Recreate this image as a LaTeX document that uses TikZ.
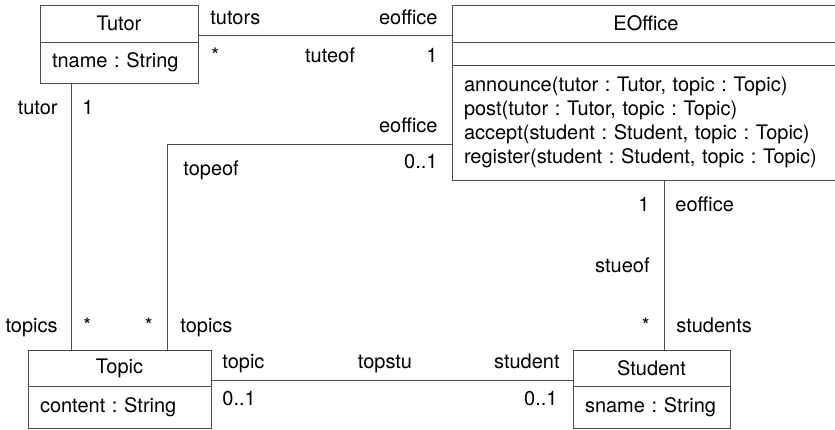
\documentclass[tikz,border=0pt]{standalone}
\usepackage{fontspec}
\setmainfont{TeX Gyre Heros}
\usetikzlibrary{positioning}
\frenchspacing

\tikzset{
  umlline/.style={draw=black!70, line width=0.5pt},
  classhead/.style={umlline, anchor=north west, inner sep=0pt, outer sep=0pt,
    minimum width=#1, minimum height=18.5pt},
  classbody/.style={umlline, align=left, inner xsep=6pt, inner ysep=0pt,
    outer sep=0pt, text width=#1},
  role/.style={inner sep=0pt}
}

\begin{document}
\begin{tikzpicture}[x=0.5pt, y=-0.5pt]
  \useasboundingbox (0,0) rectangle (835,429);
  % classes
  \node[classhead=79pt] (tutorhead) at (40,5) {Tutor};
  \node[classbody=67pt, minimum height=20.5pt, below=0pt of tutorhead] (tutorbody) {tname : String};

  \node[classhead=194pt] (eofficehead) at (452,5) {EOffice};
  \node[classbody=182pt, minimum height=11.5pt, below=0pt of eofficehead] (eofficeattr) {};
  \node[classbody=182pt, minimum height=57.5pt, below=0pt of eofficeattr] (eofficeops)
    {announce(tutor : Tutor, topic : Topic)\\
     post(tutor : Tutor, topic : Topic)\\
     accept(student : Student, topic : Topic)\\
     register(student : Student, topic : Topic)};

  \node[classhead=91.5pt, minimum height=18pt] (topichead) at (28,350) {Topic};
  \node[classbody=79.5pt, minimum height=21pt, below=0pt of topichead] (topicbody) {content : String};

  \node[classhead=78.5pt, minimum height=18pt] (studenthead) at (573,350) {Student};
  \node[classbody=66.5pt, minimum height=21pt, below=0pt of studenthead] (studentbody) {sname : String};

  % associations
  \begin{scope}[umlline]
    \draw ([yshift=-5.75pt]tutorhead.east) -- ([yshift=-5.75pt]eofficehead.west);
    \draw ([xshift=15.5pt]tutorbody.south west) coordinate (tutorfoot)
      -- (tutorfoot |- topichead.north);
    \draw ([xshift=69.5pt]topichead.north west) |- ([yshift=-10.75pt]eofficeops.west);
    \draw ([yshift=-6pt]topichead.east) -- ([yshift=-6pt]studenthead.west);
    \draw ([xshift=6.25pt]studenthead.north) coordinate (studenttop)
      -- (studenttop |- eofficeops.south);
  \end{scope}

  % roles and multiplicities
  \node[role, anchor=base west] (tutorsrole) at (210,24) {tutors};
  \node[role, anchor=base east] (eoffrole1) at (438,24) {eoffice};
  \node[role, anchor=base west] (tutorsmult) at (211,62) {*};
  \node[role, anchor=base] (tuteof) at (330,62) {tuteof};
  \node[role, anchor=base east] (eoffmult1) at (438,62) {1};

  \node[role, anchor=base east] (tutorrole) at (58,114) {tutor};
  \node[role, anchor=base west] (tutormult) at (82,114) {1};
  \node[role, anchor=base east] (topicsrole1) at (58,332) {topics};
  \node[role, anchor=base west] (topicsmult1) at (83,332) {*};

  \node[role, anchor=base east] (eoffrole2) at (438,132) {eoffice};
  \node[role, anchor=base east] (eoffmult2) at (438,168) {0..1};
  \node[role, anchor=base west] (topeof) at (183,175) {topeof};
  \node[role, anchor=base east] (topicsmult2) at (153,332) {*};
  \node[role, anchor=base west] (topicsrole2) at (180,332) {topics};

  \node[role, anchor=base west] (topicrole) at (222,368) {topic};
  \node[role, anchor=base] (topstu) at (385,368) {topstu};
  \node[role, anchor=base east] (studentrole) at (560,368) {student};
  \node[role, anchor=base west] (topicmult) at (222,405) {0..1};
  \node[role, anchor=base east] (studentmult) at (558,405) {0..1};

  \node[role, anchor=base east] (eoffmult3) at (650,211) {1};
  \node[role, anchor=base west] (eoffrole3) at (675,211) {eoffice};
  \node[role, anchor=base east] (stueof) at (650,272) {stueof};
  \node[role, anchor=base east] (studentsmult) at (650,332) {*};
  \node[role, anchor=base west] (studentsrole) at (676,332) {students};
\end{tikzpicture}
\end{document}
